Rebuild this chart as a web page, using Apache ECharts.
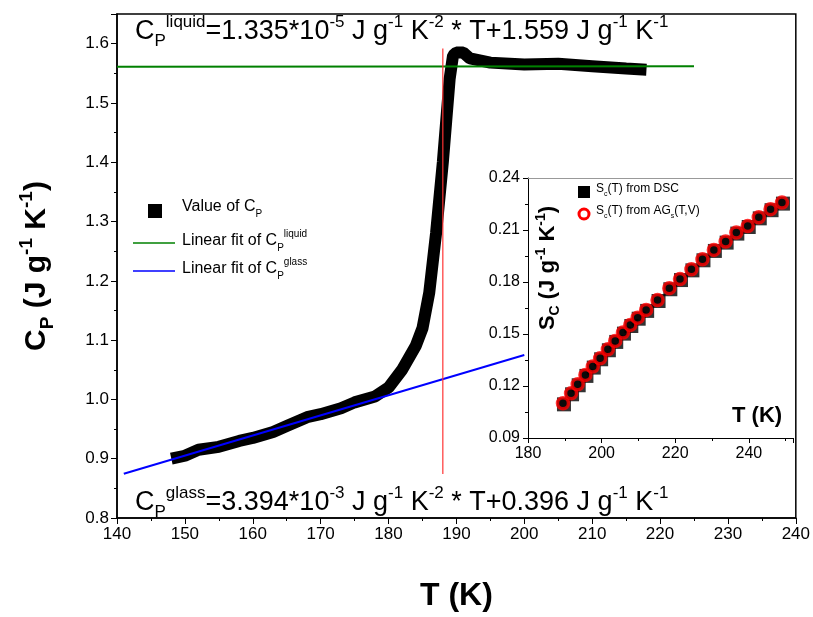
<!DOCTYPE html>
<html><head><meta charset="utf-8">
<script src="https://cdn.jsdelivr.net/npm/echarts@6/dist/echarts.min.js"></script>
<style>html,body{margin:0;background:#fff}#c{width:813px;height:617px}</style>
</head><body><div id="c"></div>
<script>
// main: measured Cp curve
var cpT = [148,150,152,155,158,160,163,165,168,170,173,175,178,180,182,184,185,186,187,188,188.5,189,189.5,190,191,192,195,200,205,210,215,218];
var cpV = [0.90,0.905,0.915,0.92,0.93,0.935,0.945,0.955,0.97,0.975,0.985,0.995,1.005,1.02,1.05,1.09,1.12,1.18,1.28,1.40,1.47,1.54,1.58,1.585,1.585,1.575,1.568,1.565,1.566,1.562,1.558,1.556];
var liqRange = [140, 225];
var glassRange = [141, 200];
var tg = 188;
// inset: configurational entropy
var scT = [189.5,191.7,193.5,195.6,197.6,199.6,201.7,203.7,205.8,207.8,209.8,212.1,215.2,218.4,221.3,224.4,227.4,230.5,233.7,236.6,239.7,242.7,245.9,249];
var scDSC = [0.110,0.1158,0.121,0.1264,0.1312,0.136,0.1412,0.146,0.1508,0.1552,0.1594,0.1639,0.1696,0.1764,0.1817,0.1873,0.1931,0.1985,0.2033,0.2085,0.2123,0.2173,0.222,0.2258];
var scAG = scDSC.slice();

function liq(T){return 1.335e-5*T+1.559;}
function gla(T){return 3.394e-3*T+0.396;}

function mk(fs, lh, bold){
  var w = bold ? 'bold' : 'normal', sf = Math.round(fs*0.62);
  return {
    n:{fontSize:fs,fontWeight:w,fontFamily:'Arial',color:'#000',lineHeight:lh,verticalAlign:'middle'},
    s:{fontSize:sf,fontWeight:w,fontFamily:'Arial',color:'#000',lineHeight:lh,verticalAlign:'bottom'},
    u:{fontSize:sf,fontWeight:w,fontFamily:'Arial',color:'#000',lineHeight:lh,verticalAlign:'top'}
  };
}
var eqRich = mk(27, 36);
var legRich = mk(16, 24);
var insRich = mk(12, 18);

var chart = echarts.init(document.getElementById('c'));
chart.setOption({
  animation:false,
  grid:[
    {left:117,top:14,right:17,bottom:98,show:true,borderColor:'#000',borderWidth:1.5},
    {left:528,top:178,right:20,bottom:179}
  ],
  xAxis:[
    {gridIndex:0,type:'value',min:140,max:240,interval:10,name:'T (K)',nameLocation:'middle',nameGap:62,
     nameTextStyle:{fontSize:32,fontWeight:'bold',fontFamily:'Arial',color:'#000'},
     axisLine:{lineStyle:{color:'#000',width:1.5}},axisTick:{length:6,lineStyle:{color:'#000'}},
     minorTick:{show:true,splitNumber:2,length:3,lineStyle:{color:'#000'}},
     axisLabel:{fontSize:17,fontFamily:'Arial',color:'#000'},splitLine:{show:false}},
    {gridIndex:1,type:'value',min:180,max:252,interval:20,
     axisLine:{lineStyle:{color:'#000',width:1}},axisTick:{length:5,lineStyle:{color:'#000'}},
     minorTick:{show:true,splitNumber:2,length:3,lineStyle:{color:'#000'}},
     axisLabel:{fontSize:16,fontFamily:'Arial',color:'#000',formatter:function(v){return v%20===0?v:'';}},splitLine:{show:false}}
  ],
  yAxis:[
    {gridIndex:0,type:'value',min:0.8,max:1.65,interval:0.1,
     name:'{n|C}{s|P}{n| (J g}{u|-1}{n| K}{u|-1}{n|)}',nameLocation:'middle',nameGap:60,nameRotate:90,
     nameTextStyle:{rich:mk(30, 40, true)},
     axisLine:{lineStyle:{color:'#000',width:1.5}},axisTick:{length:6,lineStyle:{color:'#000'}},
     minorTick:{show:true,splitNumber:2,length:3,lineStyle:{color:'#000'}},
     axisLabel:{fontSize:17,fontFamily:'Arial',color:'#000',formatter:function(v){return Math.abs(v*10-Math.round(v*10))<1e-6?v.toFixed(1):'';}},splitLine:{show:false}},
    {gridIndex:1,type:'value',min:0.09,max:0.24,interval:0.03,
     axisLine:{lineStyle:{color:'#000',width:1}},axisTick:{length:5,lineStyle:{color:'#000'}},
     minorTick:{show:true,splitNumber:2,length:3,lineStyle:{color:'#000'}},
     axisLabel:{fontSize:16,fontFamily:'Arial',color:'#000',formatter:function(v){return v.toFixed(2);}},splitLine:{show:false}}
  ],
  series:[
    {name:'liq',type:'line',xAxisIndex:0,yAxisIndex:0,symbol:'none',lineStyle:{color:'#008000',width:2},
     data:liqRange.map(function(t){return [t,liq(t)];}),z:3},
    {name:'gla',type:'line',xAxisIndex:0,yAxisIndex:0,symbol:'none',lineStyle:{color:'#0000ff',width:2},
     data:glassRange.map(function(t){return [t,gla(t)];}),z:4},
    {name:'cp',type:'line',xAxisIndex:0,yAxisIndex:0,symbol:'none',lineStyle:{color:'#000',width:12},
     data:cpT.map(function(t,i){return [t,cpV[i]];}),z:2},
    {name:'tg',type:'line',xAxisIndex:0,yAxisIndex:0,symbol:'none',lineStyle:{color:'#ff3333',width:1.2},
     data:[[tg,0.874],[tg,1.592]],z:5},
    {type:'line',xAxisIndex:1,yAxisIndex:1,symbol:'none',lineStyle:{width:0},data:[],
     markLine:{silent:true,symbol:'none',lineStyle:{color:'#999',width:1,type:'solid'},label:{show:false},data:[{yAxis:0.24}]}},
    {name:'dsc',type:'scatter',xAxisIndex:1,yAxisIndex:1,symbol:'rect',symbolSize:14,symbolOffset:[1,1],itemStyle:{color:'#000'},
     data:scT.map(function(t,i){return [t,scDSC[i]];}),z:6},
    {name:'ag',type:'scatter',xAxisIndex:1,yAxisIndex:1,symbol:'circle',symbolSize:11,
     itemStyle:{color:'#000',borderColor:'#ff0000',borderWidth:3.5},
     data:scT.map(function(t,i){return [t,scAG[i]];}),z:7}
  ],
  graphic:[
    {type:'text',left:135,top:14,style:{text:'{n|C}{s|P}{u|liquid}{n|=1.335*10}{u|-5}{n| J g}{u|-1}{n| K}{u|-2}{n| * T+1.559 J g}{u|-1}{n| K}{u|-1}',rich:eqRich},z:10},
    {type:'text',left:135,top:485,style:{text:'{n|C}{s|P}{u|glass}{n|=3.394*10}{u|-3}{n| J g}{u|-1}{n| K}{u|-2}{n| * T+0.396 J g}{u|-1}{n| K}{u|-1}',rich:eqRich},z:10},
    // main legend
    {type:'rect',shape:{x:148,y:204,width:14,height:14},style:{fill:'#000'},z:10},
    {type:'text',left:182,top:199,style:{text:'{n|Value of C}{s|P}',rich:legRich},z:10},
    {type:'line',shape:{x1:133,y1:243,x2:175,y2:243},style:{stroke:'#008000',lineWidth:1.5},z:10},
    {type:'text',left:182,top:229,style:{text:'{n|Linear fit of C}{s|P}{u|liquid}',rich:legRich},z:10},
    {type:'line',shape:{x1:133,y1:271,x2:175,y2:271},style:{stroke:'#0000ff',lineWidth:1.5},z:10},
    {type:'text',left:182,top:257,style:{text:'{n|Linear fit of C}{s|P}{u|glass}',rich:legRich},z:10},
    // inset legend
    {type:'rect',shape:{x:578,y:186,width:12,height:12},style:{fill:'#000'},z:10},
    {type:'text',left:596,top:183,style:{text:'{n|S}{s|c}{n|(T) from DSC}',rich:insRich},z:10},
    {type:'circle',shape:{cx:584,cy:214,r:5},style:{fill:'#fff',stroke:'#ff0000',lineWidth:3},z:10},
    {type:'text',left:596,top:205,style:{text:'{n|S}{s|c}{n|(T) from AG}{s|s}{n|(T,V)}',rich:insRich},z:10},
    // inset axis names
    {type:'text',x:548,y:268,rotation:Math.PI/2,style:{text:'{n|S}{s|C}{n| (J g}{u|-1}{n| K}{u|-1}{n|)}',rich:mk(22, 28, true),align:'center',verticalAlign:'middle'},z:10},
    {type:'text',left:732,top:405,style:{text:'T (K)',font:'bold 22px Arial',fill:'#000'},z:10}
  ]
});
</script></body></html>
